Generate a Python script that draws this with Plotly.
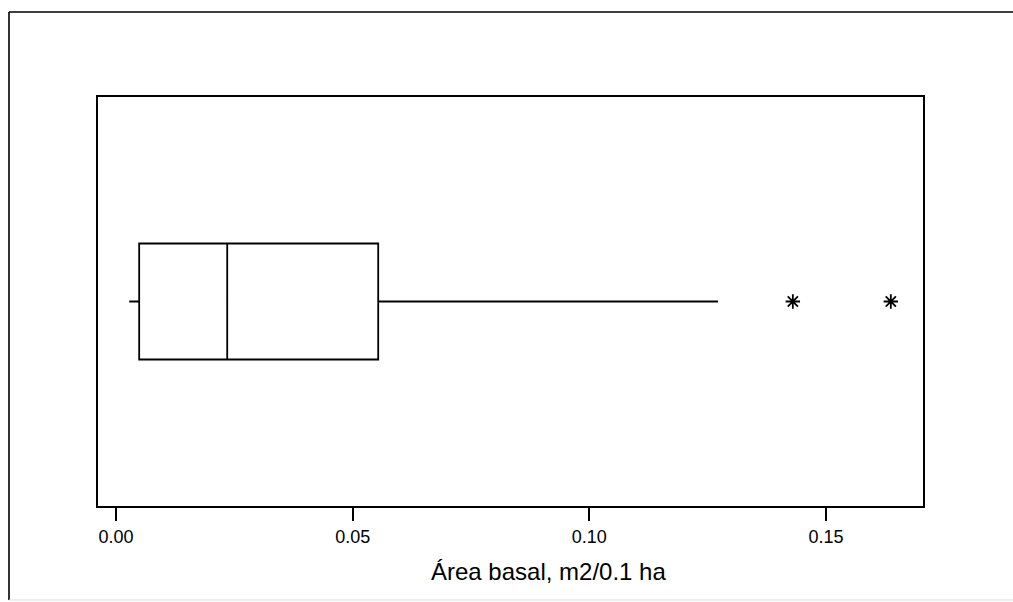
import plotly.graph_objects as go

# Box-plot summary (Área basal, m2/0.1 ha)
lower_whisker = [0.0028]
q1_vals = [0.0049]
median_vals = [0.0235]
q3_vals = [0.0554]
upper_whisker = [0.1272]
outliers = [0.1430, 0.1637]
tick_vals = [0.00, 0.05, 0.10, 0.15]
tick_text = ["0.00", "0.05", "0.10", "0.15"]
x_title = "Área basal, m2/0.1 ha"

W, H = 1013, 602
ml, mr, mt, mb = 98, 90, 97, 96
pw, ph = W - ml - mr, H - mt - mb

def px(x):
    return (x - ml) / pw

def py(y):
    return (H - mb - y) / ph

fig = go.Figure()
fig.add_trace(go.Box(
    y=[0], q1=q1_vals, median=median_vals, q3=q3_vals,
    lowerfence=lower_whisker, upperfence=upper_whisker,
    orientation="h", width=0.567, whiskerwidth=0,
    fillcolor="white", line=dict(color="black", width=1.8),
    boxpoints=False, showlegend=False, hoverinfo="x",
))
fig.add_trace(go.Scatter(
    x=outliers, y=[0] * len(outliers), mode="markers",
    marker=dict(symbol="asterisk-open", size=12, color="black",
                line=dict(color="black", width=1.8)),
    showlegend=False,
))

frame = dict(color="black", width=1.6)
fig.add_shape(type="line", xref="paper", yref="paper",
              x0=px(9), x1=px(9), y0=py(12), y1=py(600), line=frame)
fig.add_shape(type="line", xref="paper", yref="paper",
              x0=px(9), x1=px(1013), y0=py(12), y1=py(12), line=frame)
fig.add_shape(type="line", xref="paper", yref="paper",
              x0=px(9), x1=px(1013), y0=py(600), y1=py(600),
              line=dict(color="#dddddd", width=1))

fig.add_annotation(
    text=x_title, xref="paper", yref="paper",
    x=px(548), y=py(571), xanchor="center", yanchor="middle",
    showarrow=False, font=dict(size=24),
)

fig.update_layout(
    width=W, height=H,
    margin=dict(l=ml, r=mr, t=mt, b=mb),
    paper_bgcolor="white", plot_bgcolor="white",
    font=dict(family="Liberation Sans, Arial, sans-serif", color="black"),
    xaxis=dict(
        range=[-0.0038, 0.1705], tickvals=tick_vals, ticktext=tick_text,
        ticks="outside", ticklen=13, tickwidth=1.6, tickcolor="black",
        showline=True, mirror=True, linecolor="black", linewidth=1.8,
        showgrid=False, zeroline=False,
        tickfont=dict(size=18),
    ),
    yaxis=dict(
        range=[-1, 1], showticklabels=False, ticks="",
        showline=True, mirror=True, linecolor="black", linewidth=1.8,
        showgrid=False, zeroline=False,
    ),
)

fig.write_html("out.html")
